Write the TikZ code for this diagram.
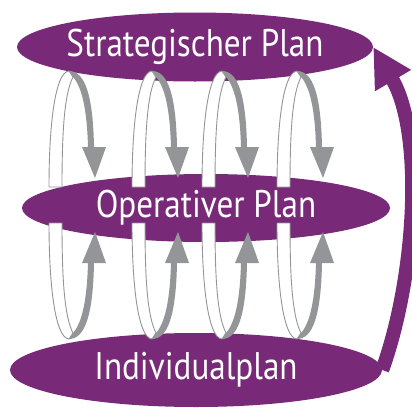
\documentclass[tikz,border=0pt]{standalone}
\usepackage{fontspec}
\setmainfont{PT Sans}[FakeStretch=0.86]
\usetikzlibrary{arrows.meta,shapes.geometric}

\definecolor{planviolet}{RGB}{120,42,120}
\definecolor{loopgrey}{RGB}{147,149,152}

\tikzset{
	plan/.style={ellipse, fill=planviolet, text=white, inner xsep=-50pt, inner ysep=0pt, font=\fontsize{38.5}{40}\selectfont},
	strip/.style={fill=white, draw=loopgrey, line width=0.9pt, line join=round},
	turn/.style={fill=loopgrey}
}
\def\ribbon(#1)[#2]{
	\begin{scope}[shift={(#1,205)}, yscale=#2]
		\draw[strip] (0,-18) .. controls (0,-80) and (6,-133) .. (20,-134) -- (24,-128) .. controls (16,-112) and (13,-80) .. (13,-18) -- cycle;
		\fill[turn] (20,-134) .. controls (36,-134) and (44,-110) .. (45,-58) -- (57,-58) -- (46,-27) -- (33,-58) -- (39,-58) .. controls (38,-95) and (33,-118) .. (24,-128) -- cycle;
	\end{scope}
}

\begin{document}
\begin{tikzpicture}[x=1pt, y=-1pt]
		%%%%% START %%%%%
		\useasboundingbox (0,0) rectangle (412,407);
		
		\node[plan, minimum width=356pt, minimum height=69pt] (strat) at (195,47) {Strategischer Plan};
		\node[plan, minimum width=368pt, minimum height=68pt] (oper) at (206,208) {Operativer Plan};
		\node[plan, minimum width=372pt, minimum height=74pt] (indiv) at (196,370) {Individualplan};
		
		% loops down between the upper two, up between the lower two
		\foreach \x in {49,132,202,277} {
			\ribbon(\x)[1]
			\ribbon(\x)[-1]
		}
		
		\draw[planviolet, line width=14pt, -{Triangle[length=39pt, width=39pt]}] (indiv.east) .. controls (416,276) and (424,133) .. (strat.east);
		
		%%%%% END %%%%%
\end{tikzpicture}
\end{document}
